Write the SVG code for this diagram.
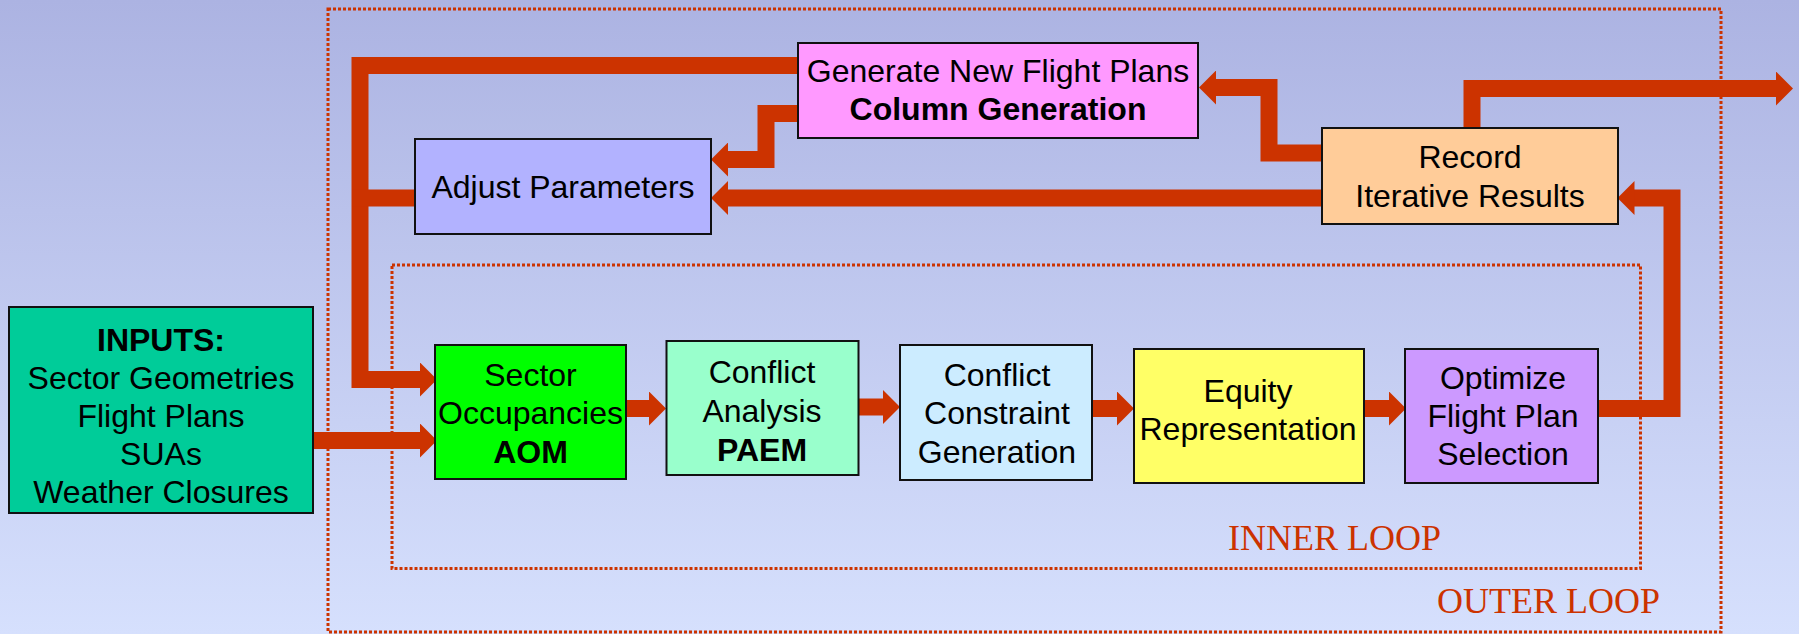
<svg xmlns="http://www.w3.org/2000/svg" width="1799" height="634" viewBox="0 0 1799 634">
<defs>
<linearGradient id="bg" x1="0" y1="0" x2="0" y2="1">
<stop offset="0" stop-color="#ACB3E2"/>
<stop offset="1" stop-color="#D6E0FD"/>
</linearGradient>
<marker id="ah" markerUnits="userSpaceOnUse" markerWidth="18" markerHeight="34" viewBox="0 0 18 34" refX="1" refY="17" orient="auto">
<path d="M0,0 L17,17 L0,34 z" fill="#CC3300"/>
</marker>
<style>
.box{stroke:#111;stroke-width:2}
.t{font-family:"Liberation Sans",Arial,sans-serif;font-size:32px;fill:#000;text-anchor:middle}
.b{font-weight:bold}
.loop{fill:none;stroke:#CC3300;stroke-width:3;stroke-dasharray:3 2}
.lt{font-family:"Liberation Serif","Times New Roman",serif;font-size:36px;fill:#CC3300}
.c{fill:none;stroke:#CC3300;stroke-width:17;stroke-linejoin:miter}
.ca{fill:none;stroke:#CC3300;stroke-width:17;stroke-linejoin:miter;marker-end:url(#ah)}
</style>
</defs>
<rect x="0" y="0" width="1799" height="634" fill="url(#bg)"/>

<g id="loops">
<rect class="loop" x="328" y="9" width="1393" height="623"/>
<rect class="loop" x="392" y="265" width="1248.5" height="303.5"/>
<text class="lt" x="1228" y="550">INNER LOOP</text>
<text class="lt" x="1437" y="613">OUTER LOOP</text>
</g>

<g id="connectors">
<polyline class="ca" points="798,65.5 360,65.5 360,379.5 421,379.5"/>
<line class="c" x1="414.5" y1="198" x2="352" y2="198"/>
<polyline class="ca" points="798,113.5 766,113.5 766,159.5 727,159.5"/>
<line class="ca" x1="1322" y1="198" x2="727" y2="198"/>
<polyline class="ca" points="1322,153 1269,153 1269,87.5 1215,87.5"/>
<polyline class="ca" points="1472,128 1472,88.5 1777,88.5"/>
<polyline class="ca" points="1597.5,408.5 1672,408.5 1672,198 1633.5,198"/>
<line class="ca" x1="313" y1="440.5" x2="421" y2="440.5"/>
<line class="ca" x1="626" y1="408.5" x2="650" y2="408.5"/>
<line class="ca" x1="858" y1="407" x2="884" y2="407"/>
<line class="ca" x1="1092" y1="408.5" x2="1118" y2="408.5"/>
<line class="ca" x1="1364" y1="408.5" x2="1390" y2="408.5"/>
</g>

<g id="inputs">
<rect class="box" x="9" y="307" width="304" height="206" fill="#00CC99"/>
<text class="t b" x="161" y="351">INPUTS:</text>
<text class="t" x="161" y="389">Sector Geometries</text>
<text class="t" x="161" y="427">Flight Plans</text>
<text class="t" x="161" y="465">SUAs</text>
<text class="t" x="161" y="503">Weather Closures</text>
</g>

<g id="generate">
<rect class="box" x="798" y="43" width="400" height="95" fill="#FF99FF"/>
<text class="t" x="998" y="81.5">Generate New Flight Plans</text>
<text class="t b" x="998" y="120">Column Generation</text>
</g>

<g id="adjust">
<rect class="box" x="415" y="139" width="296" height="95" fill="#B2B2FF"/>
<text class="t" x="563" y="197.5">Adjust Parameters</text>
</g>

<g id="record">
<rect class="box" x="1322" y="128" width="296" height="96" fill="#FFCC99"/>
<text class="t" x="1470" y="167.5">Record</text>
<text class="t" x="1470" y="206.5">Iterative Results</text>
</g>

<g id="sector">
<rect class="box" x="435" y="345" width="191" height="134" fill="#00FF00"/>
<text class="t" x="530.5" y="386">Sector</text>
<text class="t" x="530.5" y="424">Occupancies</text>
<text class="t b" x="530.5" y="462.5">AOM</text>
</g>

<g id="conflict-analysis">
<rect class="box" x="666.5" y="341" width="192" height="134" fill="#99FFCC"/>
<text class="t" x="762" y="383">Conflict</text>
<text class="t" x="762" y="421.5">Analysis</text>
<text class="t b" x="762" y="460.5">PAEM</text>
</g>

<g id="conflict-constraint">
<rect class="box" x="900" y="345" width="192" height="135" fill="#CCECFF"/>
<text class="t" x="997" y="385.5">Conflict</text>
<text class="t" x="997" y="424">Constraint</text>
<text class="t" x="997" y="462.5">Generation</text>
</g>

<g id="equity">
<rect class="box" x="1134" y="349" width="230" height="134" fill="#FFFF66"/>
<text class="t" x="1248" y="401.5">Equity</text>
<text class="t" x="1248" y="440">Representation</text>
</g>

<g id="optimize">
<rect class="box" x="1405" y="349" width="193" height="134" fill="#CC99FF"/>
<text class="t" x="1503" y="389">Optimize</text>
<text class="t" x="1503" y="427">Flight Plan</text>
<text class="t" x="1503" y="465">Selection</text>
</g>
</svg>
